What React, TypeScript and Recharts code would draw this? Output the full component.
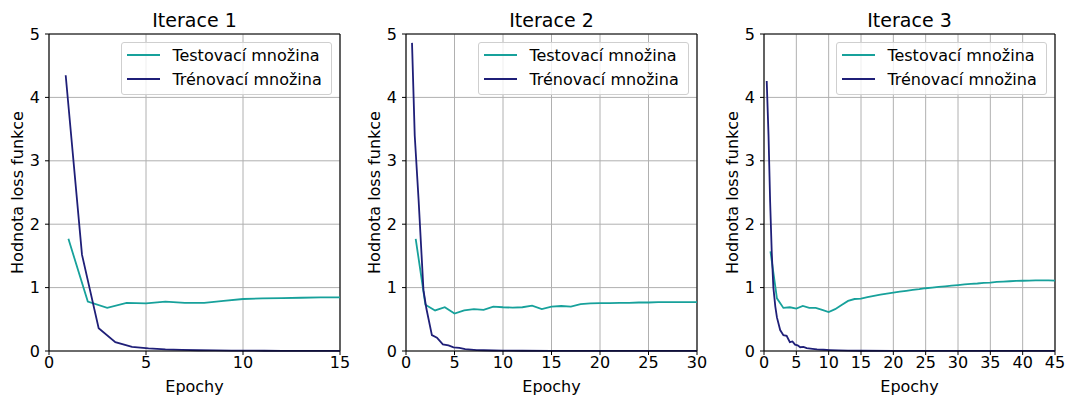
import {
  CartesianGrid,
  Legend,
  Line,
  LineChart,
  ReferenceLine,
  XAxis,
  YAxis,
} from "recharts";

const FONT = "'DejaVu Sans', sans-serif";
const TEST_COLOR = "#17a19b";
const TRAIN_COLOR = "#1f1f78";

const Y_TICKS = [0, 1, 2, 3, 4, 5];

// Iterace 1
const iter1XTicks = [0, 5, 10, 15];
const iter1TestX = [1, 2, 3, 4, 5, 6, 7, 8, 9, 10, 11, 12, 13, 14, 15];
const iter1TestY = [1.77, 0.78, 0.68, 0.76, 0.75, 0.78, 0.76, 0.76, 0.79, 0.82, 0.83, 0.835, 0.84, 0.845, 0.845];
const iter1TrainX = [0.86, 1.7, 2.56, 3.42, 4.28, 5.13, 6, 6.85, 7.7, 8.56, 9.4, 10.3, 11.1, 12, 12.8, 13.7, 14.5, 15];
const iter1TrainY = [4.35, 1.52, 0.36, 0.14, 0.065, 0.04, 0.025, 0.017, 0.012, 0.009, 0.007, 0.005, 0.004, 0.003, 0.003, 0.002, 0.002, 0.002];

// Iterace 2
const iter2XTicks = [0, 5, 10, 15, 20, 25, 30];
const iter2TestX = [1, 2, 3, 4, 5, 6, 7, 8, 9, 10, 11, 12, 13, 14, 15, 16, 17, 18, 19, 20, 21, 22, 23, 24, 25, 26, 27, 28, 29, 30];
const iter2TestY = [
  1.77, 0.73, 0.64, 0.69, 0.59, 0.64, 0.66, 0.65, 0.7, 0.69, 0.685, 0.69, 0.715, 0.66, 0.7,
  0.71, 0.7, 0.74, 0.75, 0.755, 0.755, 0.76, 0.76, 0.765, 0.765, 0.77, 0.77, 0.77, 0.77, 0.77,
];
const iter2TrainX = [0.62, 0.9, 1.3, 1.8, 2.1, 2.67, 3.19, 3.8, 4.38, 4.9, 5.5, 6.1, 6.7, 7.3, 8, 9, 10, 12, 15, 20, 25, 30];
const iter2TrainY = [4.86, 3.4, 2.38, 0.96, 0.67, 0.25, 0.21, 0.105, 0.09, 0.058, 0.05, 0.03, 0.022, 0.015, 0.012, 0.008, 0.005, 0.004, 0.003, 0.002, 0.002, 0.002];

// Iterace 3
const iter3XTicks = [0, 5, 10, 15, 20, 25, 30, 35, 40, 45];
const iter3TestX = [
  1, 2, 3, 4, 5, 6, 7, 8, 9, 10, 11, 12, 13, 14, 15, 16, 17, 18, 19, 20, 21, 22, 23,
  24, 25, 26, 27, 28, 29, 30, 31, 32, 33, 34, 35, 36, 37, 38, 39, 40, 41, 42, 43, 44, 45,
];
const iter3TestY = [
  1.57, 0.83, 0.68, 0.69, 0.67, 0.71, 0.68, 0.68, 0.65, 0.615, 0.66, 0.725, 0.79, 0.82, 0.825,
  0.85, 0.87, 0.89, 0.905, 0.92, 0.935, 0.95, 0.965, 0.975, 0.99, 1.0, 1.01, 1.02, 1.03, 1.04,
  1.05, 1.058, 1.065, 1.075, 1.08, 1.09, 1.095, 1.1, 1.105, 1.108, 1.11, 1.115, 1.115, 1.115, 1.11,
];
const iter3TrainX = [
  0.42, 0.7, 0.95, 1.2, 1.45, 1.75, 2.0, 2.5, 3.0, 3.5, 4.0, 4.4, 4.8, 5.2, 5.6, 6.1, 6.6,
  7.5, 8.2, 9.2, 10.2, 11.5, 13, 15, 20, 25, 30, 35, 40, 45,
];
const iter3TrainY = [
  4.26, 3.4, 2.35, 1.55, 1.0, 0.7, 0.53, 0.33, 0.25, 0.24, 0.14, 0.15, 0.1, 0.09, 0.06, 0.065, 0.045,
  0.035, 0.027, 0.02, 0.015, 0.01, 0.006, 0.004, 0.002, 0.002, 0.001, 0.001, 0.001, 0.001,
];

type Pt = { x: number; y: number };

function toPoints(xs: number[], ys: number[]): Pt[] {
  return xs.map((x, i) => ({ x, y: ys[i] }));
}

const PLOT_W = 291;
const PLOT_H = 317;
const PLOT_TOP = 34;
const Y_AXIS_W = 49;
const CHART_W = 352;
const CHART_H = 396;

const panels = [
  { title: "Iterace 1", left: 0, xTicks: iter1XTicks, test: toPoints(iter1TestX, iter1TestY), train: toPoints(iter1TrainX, iter1TrainY) },
  { title: "Iterace 2", left: 357, xTicks: iter2XTicks, test: toPoints(iter2TestX, iter2TestY), train: toPoints(iter2TrainX, iter2TrainY) },
  { title: "Iterace 3", left: 715, xTicks: iter3XTicks, test: toPoints(iter3TestX, iter3TestY), train: toPoints(iter3TrainX, iter3TrainY) },
];

const tickStyle = { fontSize: 16, fill: "#000", fontFamily: FONT };

function LossLegend({ payload }: { payload?: ReadonlyArray<{ value?: string; color?: string }> }) {
  return (
    <div
      style={{
        position: "relative",
        width: 211,
        height: 53,
        boxSizing: "border-box",
        border: "1px solid #cfcfcf",
        borderRadius: 3,
        background: "rgba(255,255,255,0.8)",
        fontFamily: FONT,
      }}
    >
      {(payload ?? []).map((p, i) => (
        <div
          key={p.value}
          style={{
            position: "absolute",
            left: 5,
            top: 1.6 + i * 24.4,
            height: 20,
            display: "flex",
            alignItems: "center",
          }}
        >
          <svg width={33} height={4} style={{ display: "block" }}>
            <line x1={0} y1={2} x2={33} y2={2} stroke={p.color} strokeWidth={1.8} />
          </svg>
          <span style={{ marginLeft: 12.7, fontSize: 16, lineHeight: "20px", color: "#000", position: "relative", top: 1, whiteSpace: "nowrap" }}>
            {p.value}
          </span>
        </div>
      ))}
    </div>
  );
}

function YLabel() {
  return (
    <text
      x={0}
      y={0}
      transform={`translate(23.3, ${PLOT_TOP + PLOT_H / 2}) rotate(-90)`}
      textAnchor="middle"
      fontSize={16}
      fontFamily={FONT}
      fill="#000"
    >
      Hodnota loss funkce
    </text>
  );
}

function Panel({ panel }: { panel: (typeof panels)[number] }) {
  const xMax = panel.xTicks[panel.xTicks.length - 1];
  return (
    <div style={{ position: "absolute", left: panel.left, top: 0, width: CHART_W, height: CHART_H }}>
      <div
        style={{
          position: "absolute",
          left: Y_AXIS_W,
          top: 11.3,
          width: PLOT_W,
          textAlign: "center",
          fontSize: 19,
          lineHeight: "19px",
          fontFamily: FONT,
          color: "#000",
        }}
      >
        {panel.title}
      </div>
      <LineChart
        width={CHART_W}
        height={CHART_H}
        margin={{ top: PLOT_TOP, right: CHART_W - Y_AXIS_W - PLOT_W, bottom: 0, left: 0 }}
      >
        <CartesianGrid stroke="#b0b0b0" strokeWidth={1} />
        <XAxis
          dataKey="x"
          type="number"
          domain={[0, xMax]}
          ticks={panel.xTicks}
          interval={0}
          height={CHART_H - PLOT_TOP - PLOT_H}
          tick={tickStyle}
          tickSize={4}
          tickMargin={2}
          tickLine={{ stroke: "#000" }}
          axisLine={{ stroke: "#000", strokeWidth: 1.1 }}
          label={{ value: "Epochy", position: "insideBottom", offset: 4, fontSize: 16, fill: "#000", fontFamily: FONT }}
        />
        <YAxis
          type="number"
          domain={[0, 5]}
          ticks={Y_TICKS}
          interval={0}
          width={Y_AXIS_W}
          tick={tickStyle}
          tickSize={4}
          tickMargin={5}
          tickLine={{ stroke: "#000" }}
          axisLine={{ stroke: "#000", strokeWidth: 1.1 }}
          label={{ content: () => <YLabel /> }}
        />
        <ReferenceLine y={5} stroke="#000" strokeWidth={1.1} />
        <ReferenceLine x={xMax} stroke="#000" strokeWidth={1.1} />
        <Line
          data={panel.test}
          dataKey="y"
          name="Testovací množina"
          stroke={TEST_COLOR}
          strokeWidth={1.8}
          dot={false}
          activeDot={false}
          isAnimationActive={false}
        />
        <Line
          data={panel.train}
          dataKey="y"
          name="Trénovací množina"
          stroke={TRAIN_COLOR}
          strokeWidth={1.8}
          dot={false}
          activeDot={false}
          isAnimationActive={false}
        />
        <Legend
          layout="vertical"
          align="center"
          verticalAlign="middle"
          content={<LossLegend />}
          wrapperStyle={{ left: Y_AXIS_W + PLOT_W - 8.3 - 211, top: PLOT_TOP + 8, width: 211, height: 53 }}
        />
      </LineChart>
    </div>
  );
}

export default function App() {
  return (
    <div
      style={{
        position: "absolute",
        left: 0,
        top: 0,
        width: 1065,
        height: 396,
        overflow: "hidden",
        background: "#fff",
        fontFamily: FONT,
      }}
    >
      {panels.map((p) => (
        <Panel key={p.title} panel={p} />
      ))}
    </div>
  );
}
